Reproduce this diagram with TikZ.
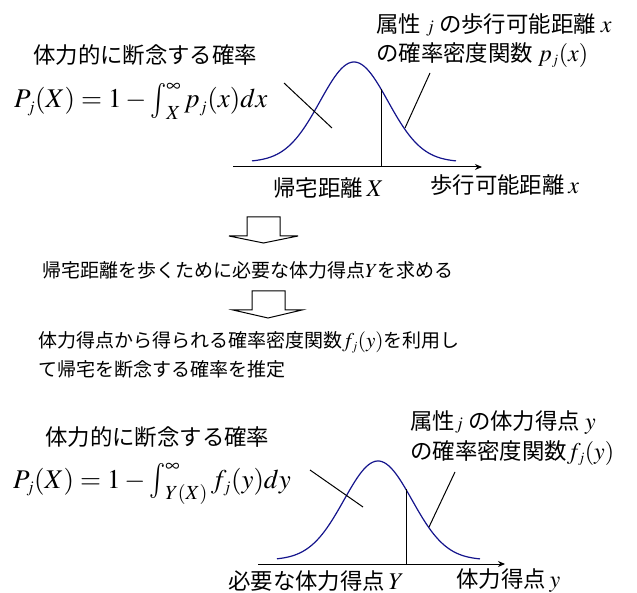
\documentclass[tikz,border=0pt]{standalone}
\usepackage{mathptmx}
\usepackage{fontspec}
\newfontfamily\jp{Noto Sans CJK JP}
\usetikzlibrary{arrows.meta}
\definecolor{curvecol}{RGB}{20,20,140}
\newcommand{\bigintg}{\mathop{\vcenter{\hbox{\scalebox{1}[1.3]{$\int$}}}}\nolimits}
\newcommand{\mth}[1]{{\fontsize{24}{24}\selectfont$#1$}}
\begin{document}
\begin{tikzpicture}[x=1pt,y=-1pt,
  lbl/.style={inner sep=0pt, font=\jp\fontsize{22.4}{25}\selectfont},
  mid/.style={inner sep=0pt, font=\jp\fontsize{19}{22}\selectfont},
  eq/.style={inner sep=0pt, font=\fontsize{27}{30}\selectfont},
  curve/.style={draw=curvecol, line width=1.2pt},
  ln/.style={line width=1pt},
  blockarrow/.style={draw, fill=white, line width=1pt}]
\useasboundingbox (0,0) rectangle (637,593);

% ---------- top graph ----------
\node[lbl, anchor=west] (t1) at (33,55) {体力的に断念する確率};
\node[eq, anchor=base west] (f1) at (14,108) {$P_{\scriptscriptstyle j}(X)=1-\bigintg_X^\infty p_{\scriptscriptstyle j}(x)dx$};
\node[lbl, anchor=west] (t2) at (376,25) {属性\ \mth{{\scriptstyle j}}\ の歩行可能距離\ \mth{x}};
\node[lbl, anchor=west] (t3) at (376,55) {の確率密度関数\ \mth{p_{\scriptscriptstyle j}(x)}};

\coordinate (a1s) at (233,167);
\coordinate (a1e) at (482,167);
\draw[ln,-{Stealth[length=7pt,width=6pt]}] (a1s) -- (a1e);
\draw[curve] plot[domain=252:456, samples=90, smooth] (\x, {162-100*exp(-((\x-354)/34)^2/2)});
\coordinate (v1b) at (381,167);
\coordinate (v1t) at (381,89);
\draw[ln] (v1b) -- (v1t);
\coordinate (p1a) at (284,83);
\coordinate (p1b) at (332,128);
\draw[ln] (p1a) -- (p1b);
\coordinate (q1a) at (405,128);
\coordinate (q1b) at (430,73);
\draw[ln] (q1a) -- (q1b);
\node[lbl, anchor=west] (l1) at (273,188) {帰宅距離\,\mth{X}};
\node[lbl, anchor=west] (l2) at (430,185) {歩行可能距離\,\mth{x}};

% ---------- arrows and middle text ----------
\draw[blockarrow] (247,217) -- (280,217) -- (280,236) -- (298,236) -- (263.5,243) -- (229,236) -- (247,236) -- cycle;
\node[mid, anchor=west] (m1) at (42,270) {帰宅距離を歩くために必要な体力得点{\fontsize{20}{20}\selectfont$Y$}を求める};
\draw[blockarrow] (252,291) -- (285,291) -- (285,310) -- (302,310) -- (268,318) -- (233,310) -- (252,310) -- cycle;
\node[mid, anchor=west] (m2) at (38,342) {体力得点から得られる確率密度関数{\fontsize{21}{21}\selectfont$f_{\scriptscriptstyle j}(y)$}を利用し};
\node[mid, anchor=west] (m3) at (38,369) {て帰宅を断念する確率を推定};

% ---------- bottom graph ----------
\node[lbl, anchor=west] (b1) at (45,437) {体力的に断念する確率};
\node[eq, anchor=base west] (f2) at (13,488) {$P_{\scriptscriptstyle j}(X)=1-\bigintg_{Y(X)}^\infty f_{\scriptscriptstyle j}(y)dy$};
\node[lbl, anchor=west] (b2) at (410,423) {属性\mth{{\scriptstyle j}}\ の体力得点\ \mth{y}};
\node[lbl, anchor=west] (b3) at (410,453) {の確率密度関数\mth{f_{\scriptscriptstyle j}(y)}};

\coordinate (a2s) at (258,564);
\coordinate (a2e) at (505,564);
\draw[ln,-{Stealth[length=7pt,width=6pt]}] (a2s) -- (a2e);
\draw[curve] plot[domain=277:480, samples=90, smooth] (\x, {560-99*exp(-((\x-378)/34)^2/2)});
\coordinate (v2b) at (406,564);
\coordinate (v2t) at (406,489);
\draw[ln] (v2b) -- (v2t);
\coordinate (p2a) at (310,470);
\coordinate (p2b) at (363,507);
\draw[ln] (p2a) -- (p2b);
\coordinate (q2a) at (429,527);
\coordinate (q2b) at (455,472);
\draw[ln] (q2a) -- (q2b);
\node[lbl, anchor=west] (l3) at (228,581) {必要な体力得点\,\mth{Y}};
\node[lbl, anchor=west] (l4) at (456,581) {体力得点\,\mth{y}};
\end{tikzpicture}
\end{document}
